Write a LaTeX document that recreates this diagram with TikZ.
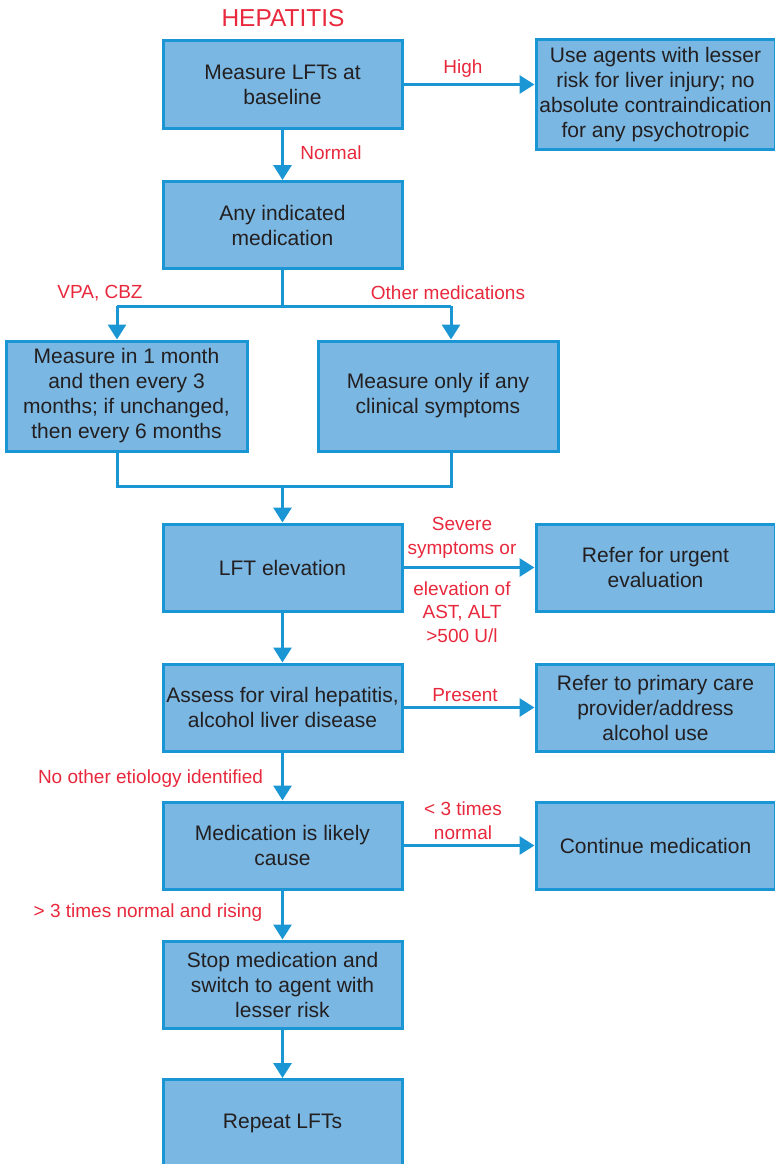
\documentclass[tikz,border=0pt]{standalone}
\usepackage{fontspec}
\setmainfont{Liberation Sans}
\usetikzlibrary{arrows.meta}
\definecolor{boxfill}{RGB}{122,183,226}
\definecolor{boxline}{RGB}{27,150,212}
\definecolor{labelred}{RGB}{232,40,60}
\definecolor{inktext}{RGB}{35,31,32}
\tikzset{
  stepbox/.style={draw=boxline, fill=boxfill, line width=3pt, minimum width=239pt,
    minimum height=87pt, align=center, text=inktext, inner sep=2pt,
    font=\fontsize{21}{25}\selectfont},
  cond/.style={text=labelred, align=center, inner sep=0pt,
    font=\fontsize{19}{23.5}\selectfont},
  flow/.style={draw=boxline, line width=3pt},
  arr/.style={flow, -{Triangle[width=18pt,length=15pt]}},
}
\begin{document}
\begin{tikzpicture}[x=1pt,y=-1pt]
\useasboundingbox (0,0) rectangle (774,1164);

% title
\node[text=labelred, font=\fontsize{24.5}{28}\selectfont] (title) at (283,18) {HEPATITIS};

% boxes of the main column
\node[stepbox] (base)   at (282.5,84.5)  {Measure LFTs at\\baseline};
\node[stepbox] (indic)  at (282.5,225)   {Any indicated\\medication};
\node[stepbox, minimum width=241pt, minimum height=110pt] (vpa) at (126.5,396)
  {Measure in 1 month\\and then every 3\\months; if unchanged,\\then every 6 months};
\node[stepbox, minimum width=240pt, minimum height=110pt] (other) at (438,396)
  {Measure only if any\\clinical symptoms};
\node[stepbox] (elev)   at (282.5,567.5) {LFT elevation};
\node[stepbox] (assess) at (282.5,707.5) {Assess for viral hepatitis,\\alcohol liver disease};
\node[stepbox] (likely) at (282.5,845.5) {Medication is likely\\cause};
\node[stepbox] (stop)   at (282.5,984.5) {Stop medication and\\switch to agent with\\lesser risk};
\node[stepbox] (repeat) at (282.5,1123)  {Repeat LFTs};

% boxes of the right column
\node[stepbox, minimum height=109pt] (agents) at (655.5,94.5)
  {Use agents with lesser\\risk for liver injury; no\\absolute contraindication\\for any psychotropic};
\node[stepbox] (urgent)  at (655.5,567.5) {Refer for urgent\\evaluation};
\node[stepbox] (primary) at (655.5,707.5) {Refer to primary care\\provider/address\\alcohol use};
\node[stepbox] (cont)    at (655.5,845.5) {Continue medication};

% branch points
\coordinate (split) at (282.5,306);
\coordinate (splitL) at (117,306);
\coordinate (splitR) at (451,306);
\coordinate (joinL) at (117,486);
\coordinate (joinR) at (451,486);
\coordinate (join) at (282.5,486);

% connectors
\draw[arr] (base.east) -- (base.east -| agents.west);
\draw[arr] (base.south) -- (indic.north);
\draw[flow] (indic.south) -- (split);
\draw[flow] (splitL) -- (splitR);
\draw[arr] (splitL) -- (splitL |- vpa.north);
\draw[arr] (splitR) -- (splitR |- other.north);
\draw[flow] (joinL |- vpa.south) -- (joinL) -- (joinR) -- (joinR |- other.south);
\draw[arr] (join) -- (elev.north);
\draw[arr] (elev.east) -- (urgent.west);
\draw[arr] (elev.south) -- (assess.north);
\draw[arr] (assess.east) -- (primary.west);
\draw[arr] (assess.south) -- (likely.north);
\draw[arr] (likely.east) -- (cont.west);
\draw[arr] (likely.south) -- (stop.north);
\draw[arr] (stop.south) -- (repeat.north);

% condition labels
\node[cond] (lhigh)   at (463,69)    {High};
\node[cond] (lnormal) at (331,153)   {Normal};
\node[cond] (lvpa)    at (100,293)   {VPA, CBZ};
\node[cond] (lother)  at (448,293)   {Other medications};
\node[cond] (lsev)    at (462,538)   {Severe\\symptoms or};
\node[cond] (lelev)   at (462,612)   {elevation of\\AST, ALT\\>500 U/l};
\node[cond] (lpres)   at (465,695)   {Present};
\node[cond] (lnoeti)  at (150.5,779) {No other etiology identified};
\node[cond] (lless)   at (463,820.5) {< 3 times\\normal};
\node[cond] (lmore)   at (148,913)   {> 3 times normal and rising};
\end{tikzpicture}
\end{document}
